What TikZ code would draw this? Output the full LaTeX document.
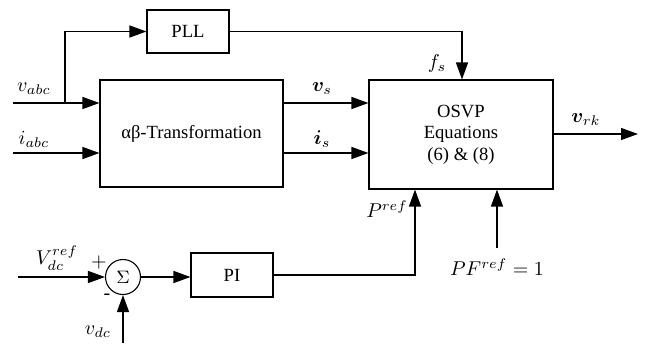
\documentclass[tikz,border=0pt]{standalone}
\usepackage{amsmath}
\usepackage{bm}
\usepackage{fontspec}
\setmainfont{Liberation Serif}
\usetikzlibrary{arrows.meta,calc}
\tikzset{
  blk/.style={draw, line width=0.55pt, inner sep=0pt, font=\fontsize{9.3}{10.8}\selectfont, align=center},
  conn/.style={line width=0.7pt},
  arr/.style={conn, -{Triangle[length=8.5pt,width=6pt]}},
  lbl/.style={font=\fontsize{10}{11}\selectfont, inner sep=0pt},
}
\begin{document}
\begin{tikzpicture}[x=0.5pt,y=-0.5pt]
\useasboundingbox (0,0) rectangle (648,343);
% blocks
\node[blk, minimum width=41pt, minimum height=21.5pt] (pll) at (188,31.5) {PLL};
\node[blk, minimum width=91.5pt, minimum height=53.5pt] (ab) at (191.5,133.5) {αβ-Transformation};
\node[blk, minimum width=92pt, minimum height=54.5pt] (osvp) at (461,134.5) {OSVP\\Equations\\(6) \& (8)};
\node[draw, circle, line width=0.55pt, minimum size=17.5pt, inner sep=0pt, font=\fontsize{9.5}{10}\selectfont] (sum) at (123,277) {$\Sigma$};
\node[blk, minimum width=41pt, minimum height=22pt] (pi) at (232,275) {PI};
% free ends
\coordinate (vin) at (13,103);
\coordinate (iin) at (13,153);
\coordinate (br) at (65,103);
\coordinate (vrefin) at (18,277);
\coordinate (vdcin) at (123,343);
\coordinate (vrk) at (638,134);
\coordinate (pfin) at (497,248);
% connectors
\draw[arr] (vin) -- (vin -| ab.west);
\draw[arr] (br) |- (pll.west);
\draw[arr] (iin) -- (iin -| ab.west);
\draw[arr] (pll.east) -| (462,0 |- osvp.north) coordinate (fs);
\draw[arr] (ab.east |- vin) -- (osvp.west |- vin);
\draw[arr] (ab.east |- iin) -- (osvp.west |- iin);
\draw[arr] (osvp.east |- vrk) -- (vrk);
\draw[arr] (vrefin) -- (sum.west);
\draw[arr] (vdcin) -- (sum.south);
\draw[arr] (sum.east) -- (pi.west |- sum.east);
\draw[arr] (pi.east) -| (415,0 |- osvp.south);
\draw[arr] (pfin) -- (pfin |- osvp.south);
% labels
\node[lbl] at (34,89) {$v_{abc}$};
\node[lbl] at (34,139) {$i_{abc}$};
\node[lbl] at (437,63) {$f_s$};
\node[lbl] at (322,89) {$\bm{v}_s$};
\node[lbl] at (322,139) {$\bm{i}_s$};
\node[lbl] at (586,120) {$\bm{v}_{rk}$};
\node[lbl] at (387,209) {$P^{ref}$};
\node[lbl] at (497,267) {$PF^{ref}=1$};
\node[lbl] at (57,258) {$V_{dc}^{ref}$};
\node[lbl] at (99,262) {$+$};
\node[lbl] at (107,297) {-};
\node[lbl] at (98,332) {$v_{dc}$};
\end{tikzpicture}
\end{document}
